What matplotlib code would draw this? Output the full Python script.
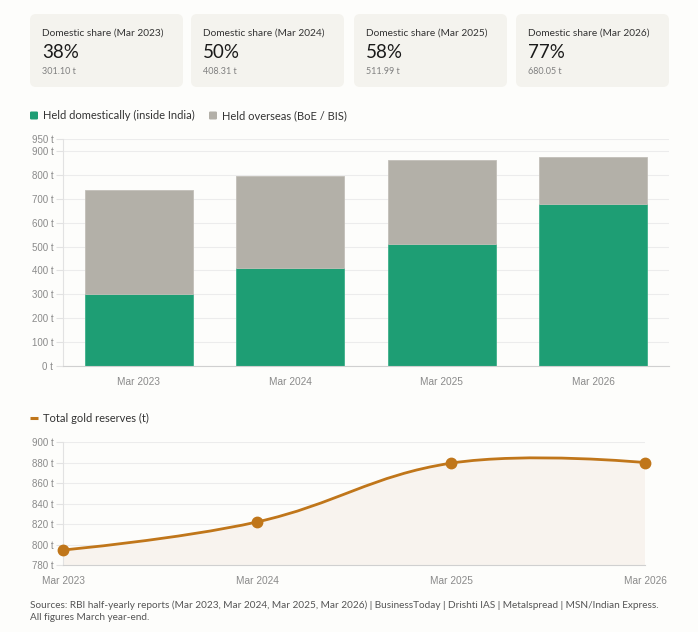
import matplotlib
matplotlib.use('Agg')
import matplotlib.pyplot as plt
from matplotlib.patches import FancyBboxPatch
from matplotlib.path import Path
from matplotlib.patches import PathPatch
import numpy as np

# data
years = ['Mar 2023', 'Mar 2024', 'Mar 2025', 'Mar 2026']
domestic = [301.10, 408.31, 511.99, 680.05]
overseas = [437.22, 387.26, 348.62, 196.0]
total_reserves = [794.64, 822.10, 879.58, 880.18]
share_labels = ['38%', '50%', '58%', '77%']
bar_ticks = [0, 100, 200, 300, 400, 500, 600, 700, 800, 900, 950]
line_ticks = [780, 800, 820, 840, 860, 880, 900]

GREEN = '#1e9e74'
GREY = '#b3b0a8'
GOLD = '#c0761a'
FILL = '#f8f3ee'
BG = '#fdfdfb'
CARD = '#f4f3ee'
TICK_C = '#8a8a8a'
GRID_C = '#ececec'
W, H = 698, 632
TXT_FONT = ['Lato', 'DejaVu Sans']
AX_FONT = ['Liberation Sans', 'DejaVu Sans']

fig = plt.figure(figsize=(W / 100, H / 100), dpi=100, facecolor=BG)

# background layer in pixel coords
bg = fig.add_axes([0, 0, 1, 1], zorder=0)
bg.set_xlim(0, W)
bg.set_ylim(H, 0)
bg.axis('off')

card_x = [30, 191, 354, 516]
card_w = 153
for i, x0 in enumerate(card_x):
    bg.add_patch(FancyBboxPatch((x0, 14), card_w, 73, boxstyle='round,pad=0,rounding_size=6',
                                facecolor=CARD, edgecolor='none'))
    bg.text(x0 + 12, 33, f'Domestic share ({years[i]})', fontsize=7.3, color='#333333',
            family=TXT_FONT, va='center', ha='left')
    bg.text(x0 + 12, 52, share_labels[i], fontsize=13.5, color='#1a1a1a',
            family=TXT_FONT, va='center', ha='left')
    bg.text(x0 + 12, 71, f'{domestic[i]:.2f} t', fontsize=6.5, color='#808080',
            family=TXT_FONT, va='center', ha='left')

# legends
bg.add_patch(FancyBboxPatch((30, 111.5), 8, 8, boxstyle='round,pad=0,rounding_size=1.2',
                            facecolor=GREEN, edgecolor='none'))
bg.text(43, 115.5, 'Held domestically (inside India)', fontsize=8, color='#333333',
        family=TXT_FONT, va='center', ha='left')
bg.add_patch(FancyBboxPatch((209, 111.5), 8, 8, boxstyle='round,pad=0,rounding_size=1.2',
                            facecolor=GREY, edgecolor='none'))
bg.text(222, 115.5, 'Held overseas (BoE / BIS)', fontsize=8, color='#333333',
        family=TXT_FONT, va='center', ha='left')

bg.plot([30, 38], [418, 418], color=GOLD, lw=2.2, solid_capstyle='butt')
bg.text(43, 418, 'Total gold reserves (t)', fontsize=8, color='#333333',
        family=TXT_FONT, va='center', ha='left')

bg.text(30, 605, 'Sources: RBI half-yearly reports (Mar 2023, Mar 2024, Mar 2025, Mar 2026) | '
        'BusinessToday | Drishti IAS | Metalspread | MSN/Indian Express.',
        fontsize=7.2, color='#555555', family=TXT_FONT, va='center', ha='left')
bg.text(30, 617, 'All figures March year-end.', fontsize=7.2, color='#555555',
        family=TXT_FONT, va='center', ha='left')


def style_axis(ax):
    ax.set_facecolor('none')
    for s in ['top', 'right']:
        ax.spines[s].set_visible(False)
    ax.spines['left'].set_color('#e2e2e2')
    ax.spines['bottom'].set_color('#d0d0d0')
    ax.grid(axis='y', color=GRID_C, lw=0.8)
    ax.set_axisbelow(True)
    ax.tick_params(axis='y', length=5, color='#e2e2e2', labelcolor=TICK_C, labelsize=7, pad=2)
    ax.tick_params(axis='x', length=0, labelcolor=TICK_C, labelsize=7.3, pad=8)
    for lab in ax.get_xticklabels() + ax.get_yticklabels():
        lab.set_family(AX_FONT)


# bar chart
ax1 = fig.add_axes([63 / W, 1 - 366 / H, (669 - 63) / W, (366 - 139) / H], zorder=1)
xpos = np.arange(len(years))
ax1.bar(xpos, domestic, width=0.71, color=GREEN, edgecolor='#3fb08a', lw=0.6)
ax1.bar(xpos, overseas, bottom=domestic, width=0.71, color=GREY, edgecolor='#c2bfb8', lw=0.6)
ax1.set_xlim(-0.5, 3.5)
ax1.set_ylim(0, 950)
ax1.set_yticks(bar_ticks)
ax1.set_yticklabels([f'{t} t' for t in bar_ticks])
ax1.set_xticks(xpos)
ax1.set_xticklabels(years)
style_axis(ax1)

# line chart
ax2 = fig.add_axes([63 / W, 1 - 565 / H, (645 - 63) / W, (565 - 442.3) / H], zorder=1)
ax2.set_xlim(0, 3)
ax2.set_ylim(780, 900)
ax2.set_yticks(line_ticks)
ax2.set_yticklabels([f'{t} t' for t in line_ticks])
ax2.set_xticks(xpos)
ax2.set_xticklabels(years)
style_axis(ax2)

# smooth curve like chart.js (tension 0.4), control points computed in pixel space
sx = (645 - 63) / 3.0
sy = (565 - 442.3) / 120.0
px = xpos * sx
py = np.array(total_reserves) * sy
n = len(px)
cprev = [(px[i], py[i]) for i in range(n)]
cnext = [(px[i], py[i]) for i in range(n)]
tension = 0.4
for i in range(1, n - 1):
    d01 = np.hypot(px[i] - px[i - 1], py[i] - py[i - 1])
    d12 = np.hypot(px[i + 1] - px[i], py[i + 1] - py[i])
    fa = tension * d01 / (d01 + d12)
    fb = tension * d12 / (d01 + d12)
    dx, dy = px[i + 1] - px[i - 1], py[i + 1] - py[i - 1]
    cprev[i] = (px[i] - fa * dx, py[i] - fa * dy)
    cnext[i] = (px[i] + fb * dx, py[i] + fb * dy)

verts = [(px[0] / sx, py[0] / sy)]
codes = [Path.MOVETO]
for i in range(n - 1):
    verts += [(cnext[i][0] / sx, cnext[i][1] / sy),
              (cprev[i + 1][0] / sx, cprev[i + 1][1] / sy),
              (px[i + 1] / sx, py[i + 1] / sy)]
    codes += [Path.CURVE4] * 3

fill_verts = verts + [(xpos[-1], 780), (xpos[0], 780), verts[0]]
fill_codes = codes + [Path.LINETO, Path.LINETO, Path.CLOSEPOLY]
ax2.add_patch(PathPatch(Path(fill_verts, fill_codes), facecolor=FILL, edgecolor='none', zorder=1))
ax2.add_patch(PathPatch(Path(verts, codes), facecolor='none', edgecolor=GOLD, lw=2, zorder=3))
ax2.plot(xpos, total_reserves, 'o', color=GOLD, ms=7.5, zorder=4, clip_on=False)

fig.savefig('out.png', dpi=100, facecolor=BG)
